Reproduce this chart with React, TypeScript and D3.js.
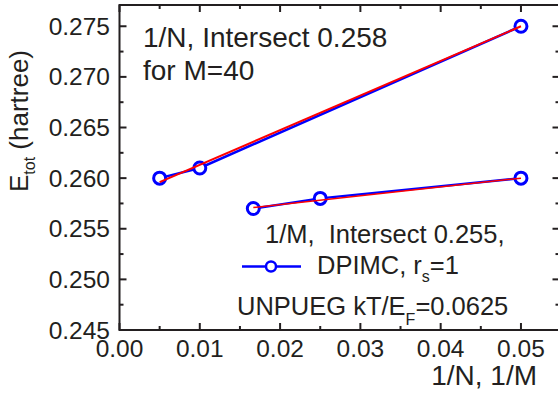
import React from "react";
import * as d3 from "d3";

// data
const invN = [0.005, 0.01, 0.05];
const energyN = [0.26, 0.261, 0.275];
const invM = [1 / 60, 0.025, 0.05];
const energyM = [0.257, 0.258, 0.26];
const fitNx = [0.005, 0.05];
const fitNy = [0.2596, 0.275];
const fitMx = [1 / 60, 0.05];
const fitMy = [0.2571, 0.26];
const xMajor = [0, 0.01, 0.02, 0.03, 0.04, 0.05];
const yMajor = [0.245, 0.25, 0.255, 0.26, 0.265, 0.27, 0.275];

const W = 558;
const H = 395;
const FONT = "'Liberation Sans', Arial, sans-serif";
const INK = "#231f20";
const BLUE = "#0000ff";
const RED = "#ff0000";

export default function App() {
  const x = d3.scaleLinear().domain([0, 0.0548]).range([119.5, 559.5]);
  const y = d3.scaleLinear().domain([0.245, 0.2771]).range([330, 5]);
  const [x0, x1] = x.range();
  const [y0, y1] = y.range();

  const xMinor = d3.range(0.005, 0.0548, 0.01);
  const yMinor = d3.range(0.2475, 0.2771, 0.005);

  const line = d3
    .line<[number, number]>()
    .x((d) => x(d[0]))
    .y((d) => y(d[1]));

  const seriesN = invN.map((v, i) => [v, energyN[i]] as [number, number]);
  const seriesM = invM.map((v, i) => [v, energyM[i]] as [number, number]);
  const fitN = fitNx.map((v, i) => [v, fitNy[i]] as [number, number]);
  const fitM = fitMx.map((v, i) => [v, fitMy[i]] as [number, number]);

  const fmt = d3.format(".2f");
  const fmtY = d3.format(".3f");

  return (
    <svg
      width={W}
      height={H}
      style={{ position: "absolute", left: 0, top: 0, background: "#fff" }}
      fontFamily={FONT}
    >
      {/* data */}
      <path d={line(seriesN) || ""} fill="none" stroke={BLUE} strokeWidth={2.5} />
      <path d={line(seriesM) || ""} fill="none" stroke={BLUE} strokeWidth={2.5} />
      {[...seriesN, ...seriesM].map((d, i) => (
        <circle key={i} cx={x(d[0])} cy={y(d[1])} r={6} fill="#fff" stroke={BLUE} strokeWidth={3} />
      ))}
      <path d={line(fitN) || ""} fill="none" stroke={RED} strokeWidth={2} />
      <path d={line(fitM) || ""} fill="none" stroke={RED} strokeWidth={1.5} />

      {/* frame */}
      <rect x={x0} y={y1} width={x1 - x0} height={y0 - y1} fill="none" stroke={INK} strokeWidth={2} />

      {/* x ticks, inward on bottom and top */}
      {xMajor.map((t) => (
        <g key={"xm" + t}>
          <line x1={x(t)} x2={x(t)} y1={y0} y2={y0 - 7} stroke={INK} strokeWidth={2} />
          <line x1={x(t)} x2={x(t)} y1={y1} y2={y1 + 7} stroke={INK} strokeWidth={2} />
          <text x={x(t)} y={357} textAnchor="middle" fontSize={24.5} fill={INK}>
            {fmt(t)}
          </text>
        </g>
      ))}
      {xMinor.map((t) => (
        <g key={"xn" + t}>
          <line x1={x(t)} x2={x(t)} y1={y0} y2={y0 - 4} stroke={INK} strokeWidth={2} />
          <line x1={x(t)} x2={x(t)} y1={y1} y2={y1 + 4} stroke={INK} strokeWidth={2} />
        </g>
      ))}

      {/* y ticks, inward on left and right */}
      {yMajor.map((t) => (
        <g key={"ym" + t}>
          <line x1={x0} x2={x0 + 7} y1={y(t)} y2={y(t)} stroke={INK} strokeWidth={2} />
          <line x1={x1} x2={x1 - 7} y1={y(t)} y2={y(t)} stroke={INK} strokeWidth={2} />
          <text x={110} y={y(t) + 8.5} textAnchor="end" fontSize={24.5} fill={INK}>
            {fmtY(t)}
          </text>
        </g>
      ))}
      {yMinor.map((t) => (
        <g key={"yn" + t}>
          <line x1={x0} x2={x0 + 4} y1={y(t)} y2={y(t)} stroke={INK} strokeWidth={2} />
          <line x1={x1} x2={x1 - 4} y1={y(t)} y2={y(t)} stroke={INK} strokeWidth={2} />
        </g>
      ))}

      {/* axis titles */}
      <text transform="translate(28,121) rotate(-90)" textAnchor="middle" fontSize={26} fill={INK}>
        E<tspan fontSize={16} dy={7}>tot</tspan>
        <tspan dy={-7}> (hartree)</tspan>
      </text>
      <text x={537} y={385} textAnchor="end" fontSize={28} fill={INK}>
        1/N, 1/M
      </text>

      {/* annotations */}
      <text x={143} y={47} fontSize={28} fill={INK}>
        1/N, Intersect 0.258
      </text>
      <text x={143} y={80} fontSize={28} fill={INK}>
        for M=40
      </text>
      <text x={265} y={243} fontSize={25.5} fill={INK} style={{ whiteSpace: "pre" }}>
        {"1/M,  Intersect 0.255,"}
      </text>
      <line x1={242} x2={301} y1={266.5} y2={266.5} stroke={BLUE} strokeWidth={2.5} />
      <circle cx={271} cy={266.5} r={5} fill="#fff" stroke={BLUE} strokeWidth={2.5} />
      <text x={317} y={274} fontSize={25.5} fill={INK}>
        DPIMC, r<tspan fontSize={16} dy={8}>s</tspan>
        <tspan dy={-8}>=1</tspan>
      </text>
      <text x={237} y={315} fontSize={25.5} fill={INK}>
        UNPUEG kT/E<tspan fontSize={16} dy={10}>F</tspan>
        <tspan dy={-10}>=0.0625</tspan>
      </text>
    </svg>
  );
}
